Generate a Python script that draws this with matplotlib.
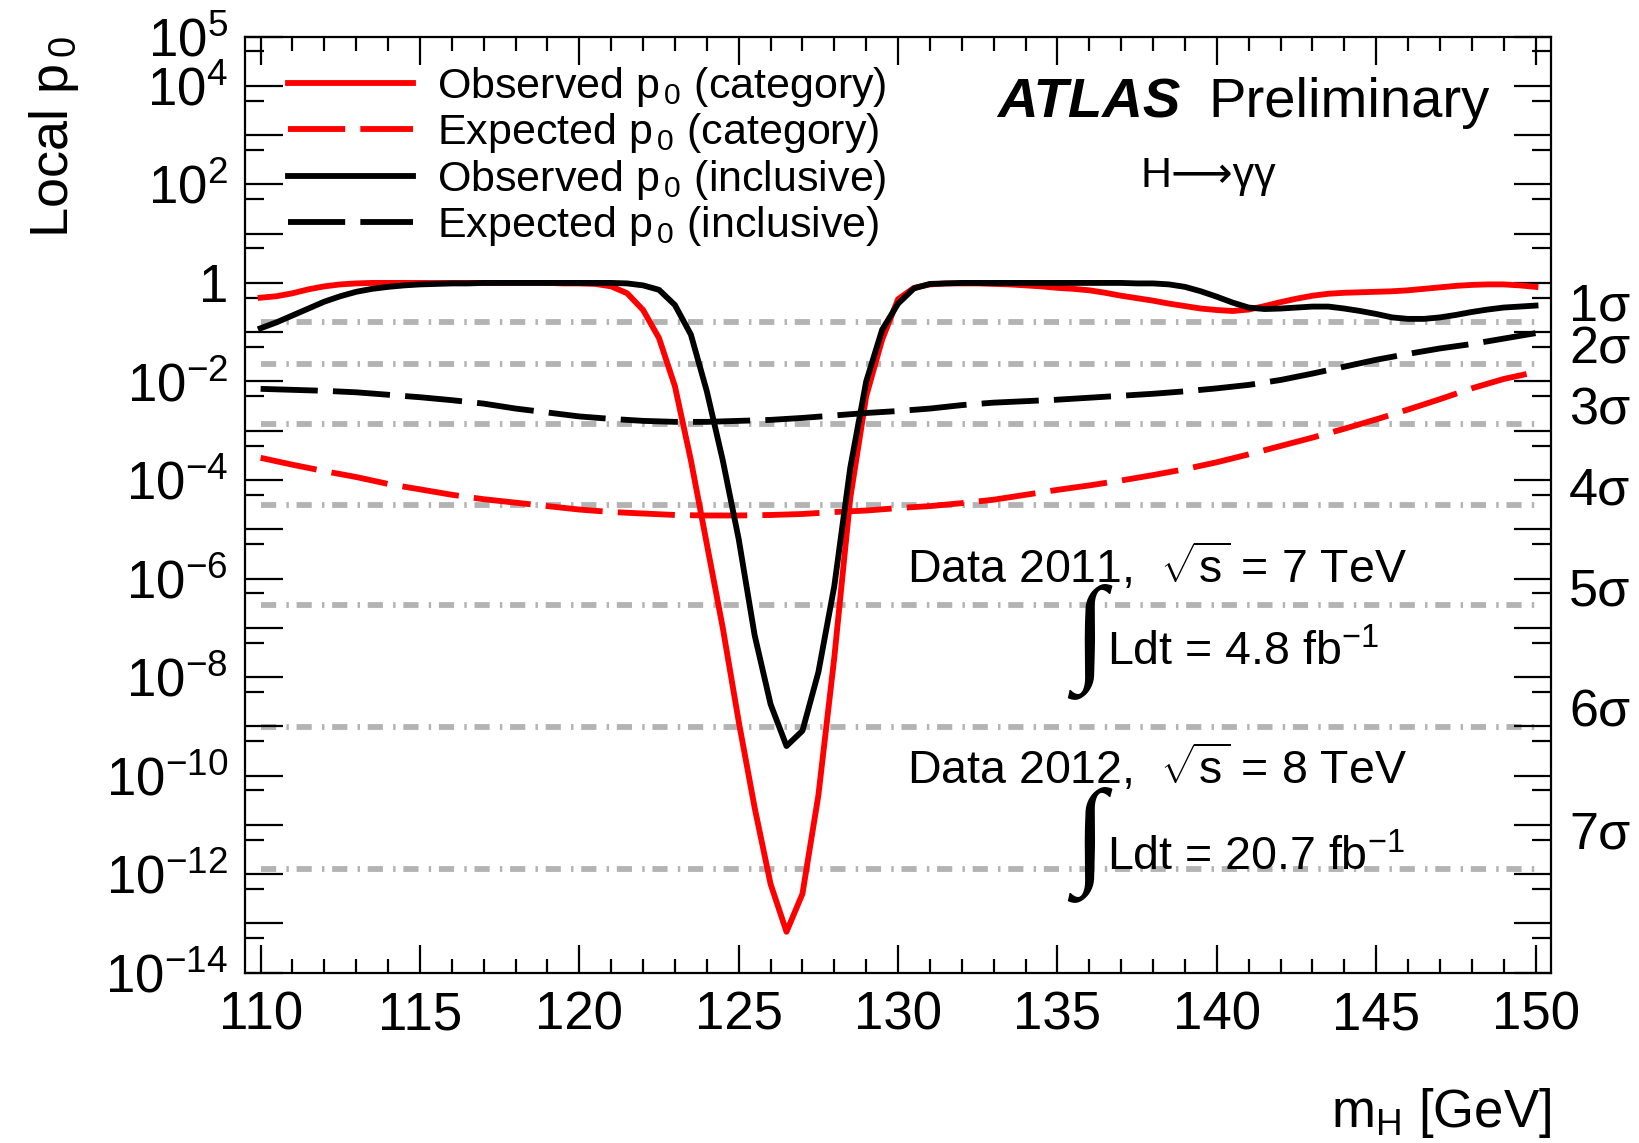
import numpy as np
import matplotlib
matplotlib.use("Agg")
import matplotlib.pyplot as plt
from matplotlib.ticker import FixedLocator, FuncFormatter, MultipleLocator

plt.rcParams["font.family"] = ["Liberation Sans", "DejaVu Sans"]
plt.rcParams["mathtext.fontset"] = "custom"
plt.rcParams["mathtext.rm"] = "Liberation Sans"
plt.rcParams["mathtext.it"] = "Liberation Sans:italic"
plt.rcParams["mathtext.bf"] = "Liberation Sans:bold"

# observed scan: 110-150 GeV in 0.5 GeV steps, values are log10(local p0)
MASS_OBS = np.arange(110.0, 150.01, 0.5)
OBS_CATEGORY = [
    -0.30, -0.27, -0.21, -0.13, -0.07, -0.03, -0.01, 0.00, 0.00, 0.00,
    0.00, 0.00, 0.00, 0.00, 0.00, 0.00, 0.00, 0.00, 0.00, -0.01,
    -0.01, -0.02, -0.07, -0.21, -0.55, -1.12, -2.10, -3.60, -5.30, -7.00,
    -8.90, -10.65, -12.20, -13.17, -12.40, -10.40, -7.60, -4.37, -2.30, -1.15,
    -0.33, -0.10, -0.03, -0.01, -0.01, -0.01, -0.02, -0.03, -0.05, -0.07,
    -0.10, -0.12, -0.15, -0.20, -0.26, -0.31, -0.36, -0.42, -0.47, -0.52,
    -0.55, -0.57, -0.54, -0.47, -0.39, -0.32, -0.26, -0.22, -0.20, -0.19,
    -0.18, -0.17, -0.15, -0.12, -0.09, -0.06, -0.04, -0.03, -0.03, -0.05,
    -0.08,
]
OBS_INCLUSIVE = [
    -0.92, -0.80, -0.66, -0.52, -0.38, -0.27, -0.18, -0.12, -0.08, -0.05,
    -0.03, -0.02, -0.01, -0.01, 0.00, 0.00, 0.00, 0.00, 0.00, 0.00,
    0.00, 0.00, 0.00, -0.01, -0.05, -0.14, -0.45, -1.05, -2.20, -3.60,
    -5.20, -7.15, -8.55, -9.40, -9.09, -7.90, -6.15, -3.75, -2.00, -0.95,
    -0.42, -0.11, -0.02, -0.01, 0.00, 0.00, 0.00, 0.00, 0.00, 0.00,
    0.00, 0.00, 0.00, 0.00, 0.00, -0.01, -0.01, -0.03, -0.08, -0.17,
    -0.28, -0.40, -0.50, -0.53, -0.52, -0.50, -0.48, -0.48, -0.52, -0.57,
    -0.63, -0.70, -0.73, -0.73, -0.70, -0.65, -0.59, -0.54, -0.50, -0.48,
    -0.46,
]

# expected scan: 1 GeV steps, log10(local p0)
MASS_EXP = np.arange(110.0, 150.01, 1.0)
EXP_CATEGORY = [
    -3.55, -3.69, -3.82, -3.94, -4.08, -4.19, -4.30, -4.39, -4.46, -4.53,
    -4.60, -4.65, -4.68, -4.71, -4.72, -4.72, -4.71, -4.69, -4.65, -4.62,
    -4.57, -4.53, -4.47, -4.40, -4.30, -4.20, -4.11, -4.01, -3.90, -3.78,
    -3.64, -3.48, -3.31, -3.14, -2.96, -2.77, -2.57, -2.36, -2.14, -1.95,
    -1.81,
]
EXP_INCLUSIVE = [
    -2.15, -2.17, -2.19, -2.22, -2.27, -2.32, -2.38, -2.45, -2.55, -2.63,
    -2.71, -2.76, -2.80, -2.82, -2.82, -2.80, -2.78, -2.74, -2.69, -2.64,
    -2.60, -2.55, -2.48, -2.43, -2.40, -2.37, -2.33, -2.29, -2.25, -2.20,
    -2.14, -2.07, -1.97, -1.84, -1.70, -1.56, -1.44, -1.33, -1.24, -1.13,
    -1.02,
]

# one-sided p0 for 1..7 sigma, and where the labels sit
SIGMA_NAMES = ["1σ", "2σ", "3σ", "4σ", "5σ", "6σ", "7σ"]
SIGMA_P0 = [1.587e-1, 2.275e-2, 1.350e-3, 3.167e-5, 2.867e-7, 9.866e-10, 1.280e-12]
SIGMA_LABEL_P0 = [1.75e-1, 2.3e-2, 1.35e-3, 3.2e-5, 2.9e-7, 9.9e-10, 3.3e-12]

LABELED_EXP = [5, 4, 2, 0, -2, -4, -6, -8, -10, -12, -14]

RED = "#ff0000"
GREY = "#b3b3b3"
LW = 4.2
DASH = (9.8, 2.6)

fig = plt.figure(figsize=(16.4, 11.43), dpi=100)
ax = fig.add_axes([0.1492, 0.1490, 0.7968, 0.8190])

for p in SIGMA_P0:
    ax.plot([110, 150], [p, p], color=GREY, lw=4.2, dashes=(2.6, 1.75, 0.42, 1.33),
            solid_capstyle="butt", dash_capstyle="butt", zorder=1)

obs_cat = 10.0 ** np.array(OBS_CATEGORY)
obs_inc = 10.0 ** np.array(OBS_INCLUSIVE)
exp_cat = 10.0 ** np.array(EXP_CATEGORY)
exp_inc = 10.0 ** np.array(EXP_INCLUSIVE)

ax.plot(MASS_OBS, obs_cat, color=RED, lw=LW, label="Observed p$_{\\,0}$ (category)", zorder=3)
ax.plot(MASS_EXP, exp_cat, color=RED, lw=LW, dashes=DASH, dash_capstyle="butt",
        label="Expected p$_{\\,0}$ (category)", zorder=3)
ax.plot(MASS_OBS, obs_inc, color="black", lw=LW, label="Observed p$_{\\,0}$ (inclusive)", zorder=4)
ax.plot(MASS_EXP, exp_inc, color="black", lw=LW, dashes=DASH, dash_capstyle="butt",
        label="Expected p$_{\\,0}$ (inclusive)", zorder=4)

ax.set_yscale("log")
ax.set_xlim(109.5, 150.5)
ax.set_ylim(1e-14, 1e5)

ax.xaxis.set_major_locator(MultipleLocator(5))
ax.xaxis.set_minor_locator(MultipleLocator(1))
ax.yaxis.set_major_locator(FixedLocator([10.0 ** e for e in range(-14, 6)]))
ax.yaxis.set_minor_locator(FixedLocator([5 * 10.0 ** e for e in range(-14, 5)]))


def ylab(v, pos):
    e = int(round(np.log10(v)))
    if e not in LABELED_EXP:
        return ""
    return "1" if e == 0 else f"$10^{{{e}}}$"


ax.yaxis.set_major_formatter(FuncFormatter(ylab))
ax.yaxis.set_minor_formatter(FuncFormatter(lambda v, pos: ""))

ax.tick_params(which="both", direction="in", top=True, right=True, width=1.6, labelsize=38)
ax.tick_params(axis="x", which="major", length=20, pad=13)
ax.tick_params(axis="x", which="minor", length=10)
ax.tick_params(axis="y", which="major", length=27, pad=12)
ax.tick_params(axis="y", which="minor", length=13.5)
for s in ax.spines.values():
    s.set_linewidth(1.6)

ax.set_xlabel("m$_\\mathrm{H}$ [GeV]", fontsize=38)
ax.xaxis.set_label_coords(1.0, -0.165)
ax.xaxis.label.set_ha("right")
ax.xaxis.label.set_va("baseline")
ax.set_ylabel("Local p$_{\\,0}$", fontsize=39)
ax.yaxis.set_label_coords(-0.135, 1.0)
ax.yaxis.label.set_ha("right")
ax.yaxis.label.set_va("baseline")

leg = ax.legend(loc="upper left", bbox_to_anchor=(0.033, 0.970), frameon=False,
                fontsize=31, handlelength=2.9, handletextpad=0.56, labelspacing=0.06,
                borderpad=0, borderaxespad=0)

ax.text(0.576, 0.914, "ATLAS", transform=ax.transAxes, fontsize=40.5,
        fontweight="bold", fontstyle="italic", ha="left", va="baseline")
ax.text(0.7372, 0.914, "Preliminary", transform=ax.transAxes, fontsize=40.5,
        ha="left", va="baseline")
ax.text(0.6852, 0.8395, "H⟶γγ", transform=ax.transAxes, fontsize=31,
        ha="left", va="baseline")

ax.text(0.5068, 0.4168, "Data 2011,  $\\sqrt{\\mathrm{s}}$ = 7 TeV", transform=ax.transAxes,
        fontsize=33.5, ha="left", va="baseline")
ax.text(0.6599, 0.3287, "Ldt = 4.8 fb$^{-1}$", transform=ax.transAxes,
        fontsize=33.5, ha="left", va="baseline")
ax.text(0.5068, 0.2015, "Data 2012,  $\\sqrt{\\mathrm{s}}$ = 8 TeV", transform=ax.transAxes,
        fontsize=33.5, ha="left", va="baseline")
ax.text(0.6599, 0.1097, "Ldt = 20.7 fb$^{-1}$", transform=ax.transAxes,
        fontsize=33.5, ha="left", va="baseline")
for yc in (0.3538, 0.1375):
    ax.text(0.6461, yc, "∫", transform=ax.transAxes, fontsize=85,
            family=["Liberation Serif", "DejaVu Serif"], ha="center", va="center")

for name, p in zip(SIGMA_NAMES, SIGMA_LABEL_P0):
    ax.text(1.0134, p, name, transform=ax.get_yaxis_transform(), fontsize=37.5,
            ha="left", va="baseline", clip_on=False)

fig.savefig("out.png", dpi=100)
